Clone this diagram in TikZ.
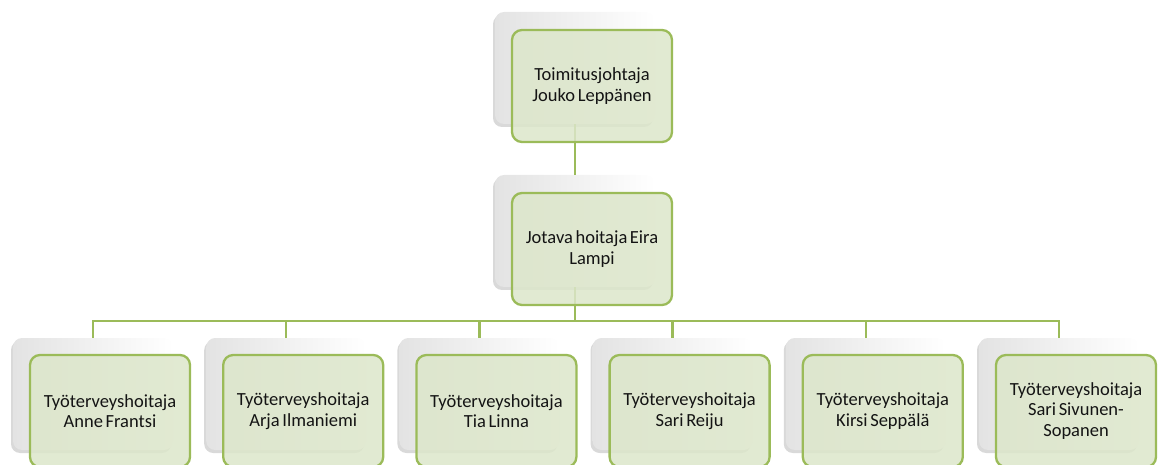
\documentclass[tikz,border=0pt]{standalone}
\usepackage{fontspec}
\setmainfont{Carlito}
\usetikzlibrary{shadows}
\definecolor{ogreen}{HTML}{9BBB59}
\definecolor{lgreen}{HTML}{DCE6CA}
\newcommand{\wsp}{\hspace{2.6pt}}
\begin{document}
\begin{tikzpicture}[x=1pt,y=-1pt,
  backbox/.style={rectangle, rounded corners=9pt, minimum width=160pt, minimum height=112pt, inner sep=0pt,
    left color=gray!22, right color=white,
    drop shadow={shadow xshift=-2pt, shadow yshift=-3pt, opacity=0.3, fill=gray}},
  frontbox/.style={rectangle, rounded corners=10pt, minimum width=160pt, minimum height=112pt, inner sep=0pt,
    draw=ogreen, line width=2.3pt, fill=lgreen, fill opacity=0.85, text opacity=1,
    text width=156pt, align=center, font={\fontsize{18.5}{20.5}\selectfont}, text=black!92},
  conn/.style={draw=ogreen, line width=2.3pt}]
\useasboundingbox (0,0) rectangle (1160,465);
% back boxes
\node[backbox] (tb) at (575,68) {};
\node[backbox] (mb) at (575,231) {};
\foreach \i in {1,...,6} {
  \node[backbox] (b\i) at ({93+193.2*(\i-1)},394) {};
}
% connectors
\draw[conn] (tb.south) -- (mb.north);
\coordinate (bar) at (575,321);
\draw[conn] (mb.south) -- (bar);
\foreach \i in {1,...,6} {
  \draw[conn] (bar) -| (b\i.north);
}
% front boxes
\node[frontbox] (tf) at (592,86) {Toimitusjohtaja\\Jouko\wsp Leppänen};
\node[frontbox] (mf) at (592,249) {Jotava\wsp hoitaja\wsp Eira\\Lampi};
\node[frontbox] (f1) at ({93+17},411) {Työterveyshoitaja\\Anne\wsp Frantsi};
\node[frontbox] (f2) at ({93+193.2+17},411) {Työterveyshoitaja\\Arja\wsp Ilmaniemi};
\node[frontbox] (f3) at ({93+2*193.2+17},411) {Työterveyshoitaja\\Tia\wsp Linna};
\node[frontbox] (f4) at ({93+3*193.2+17},411) {Työterveyshoitaja\\Sari\wsp Reiju};
\node[frontbox] (f5) at ({93+4*193.2+17},411) {Työterveyshoitaja\\Kirsi\wsp Seppälä};
\node[frontbox] (f6) at ({93+5*193.2+17},411) {Työterveyshoitaja\\Sari\wsp Sivunen-\\Sopanen};
\end{tikzpicture}
\end{document}
